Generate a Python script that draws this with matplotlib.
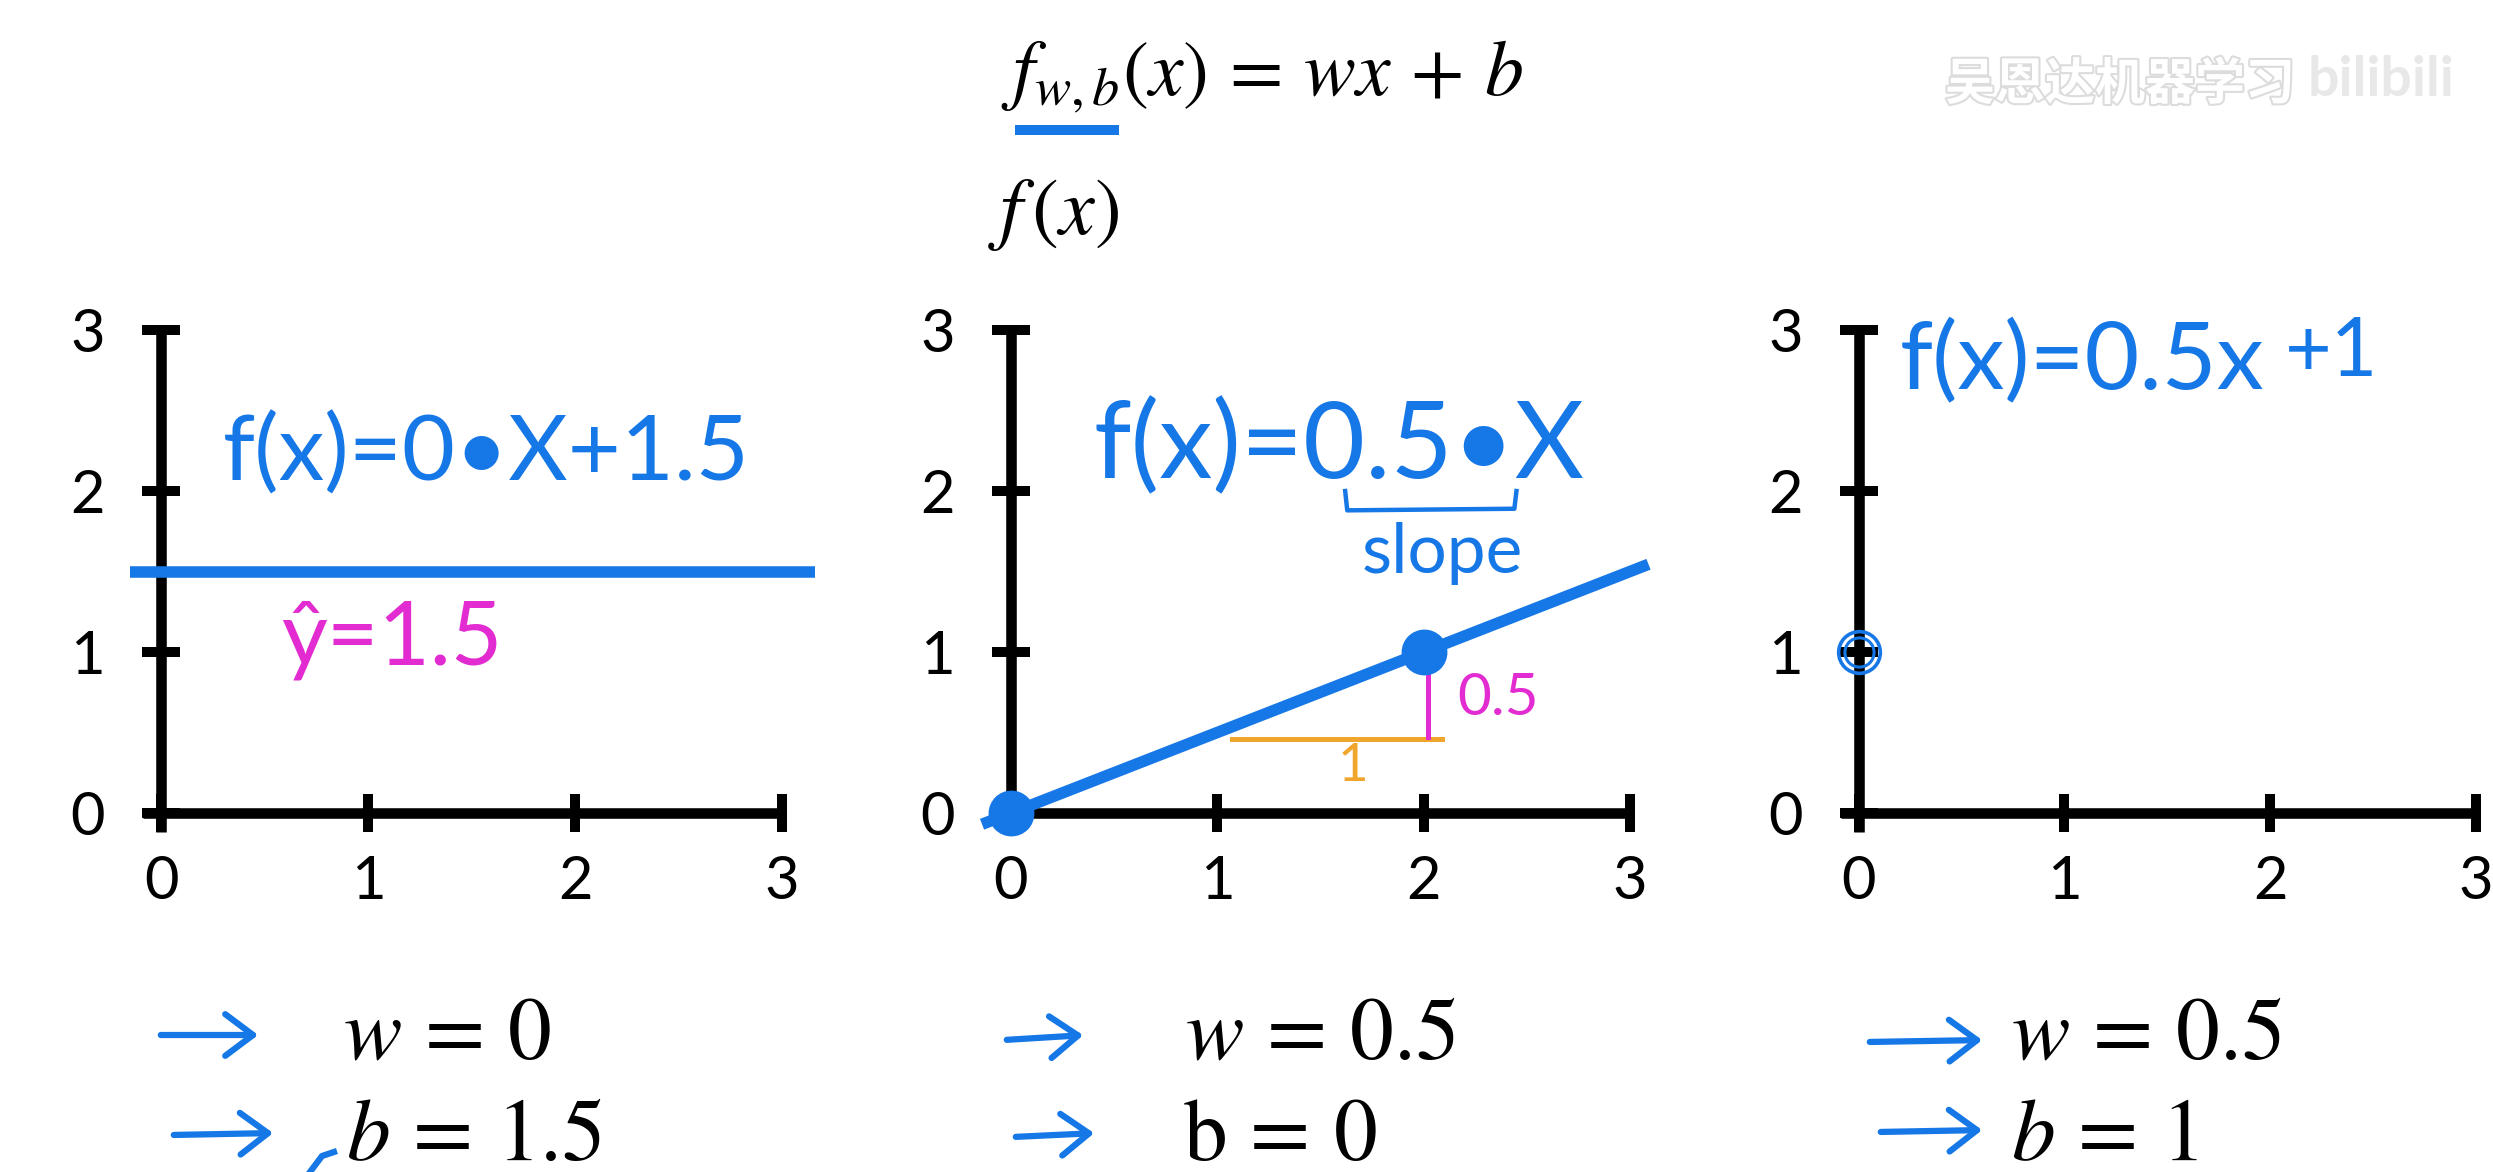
import matplotlib
matplotlib.use("Agg")
import matplotlib.pyplot as plt
import matplotlib.patheffects as pe
from matplotlib.lines import Line2D
from matplotlib.patches import FancyArrowPatch

W, H, DPI = 2493, 1172, 100

BLUE = "#1677e6"
PINK = "#e22cd2"
ORANGE = "#f0a62c"

plt.rcParams["font.family"] = ["Lato", "DejaVu Sans"]
plt.rcParams["mathtext.fontset"] = "stix"

# axis ticks shared by the three panels
ticks = [0, 1, 2, 3]
tick_labels = ["0", "1", "2", "3"]

# panel 1: w = 0, b = 1.5
p1_line_x = [-0.15, 3.16]
p1_line_y = [1.5, 1.5]

# panel 2: w = 0.5, b = 0
p2_line_x = [-0.14, 3.09]
p2_line_y = [-0.07, 1.545]
p2_pts_x = [0, 2]
p2_pts_y = [0, 1]
p2_run_x = [1.07, 2.09]
p2_run_y = [0.46, 0.46]
p2_rise_x = [2.02, 2.02]
p2_rise_y = [0.47, 0.91]
brace_x = [1.62, 1.63, 2.44, 2.45]
brace_y = [2.00, 1.88, 1.89, 2.00]

# panel 3: w = 0.5, b = 1
p3_pts_x = [0]
p3_pts_y = [1]

params = [(r"w\,=\,0", r"b\,=\,1.5"), (r"w\,=\,0.5", r"\mathrm{b}\,=\,0"), (r"w\,=\,0.5", r"b\,=\,1")]

fig = plt.figure(figsize=(W / DPI, H / DPI), dpi=DPI)


def px(x, y):
    return x / W, 1 - y / H


def setup_axes(left, width):
    ax = fig.add_axes([left, 0.2901, width, 0.4283])
    ax.set_xlim(-0.087, 3.0)
    ax.set_ylim(-0.118, 3.0)
    ax.patch.set_alpha(0)
    for s in ("top", "right"):
        ax.spines[s].set_visible(False)
    for s in ("left", "bottom"):
        ax.spines[s].set_position(("data", 0))
        ax.spines[s].set_linewidth(7.6)
        ax.spines[s].set_capstyle("butt")
    ax.set_xticks(ticks, tick_labels)
    ax.set_yticks(ticks, tick_labels)
    ax.tick_params(direction="inout", length=27, width=7.2, labelsize=43)
    ax.tick_params(axis="x", pad=17)
    ax.tick_params(axis="y", pad=27)
    return ax


hand = dict(fontweight="normal")

# left panel
ax1 = setup_axes(0.0574, 0.2563)
ax1.plot(p1_line_x, p1_line_y, color=BLUE, lw=8.3, solid_capstyle="butt", clip_on=False, zorder=3)
ax1.text(0.30, 2.23, "f(x)=0•X+1.5", color=BLUE, fontsize=66, va="center", ha="left", **hand)
ax1.text(0.58, 1.08, "ŷ=1.5", color=PINK, fontsize=64, va="center", ha="left", **hand)

# middle panel
ax2 = setup_axes(0.3983, 0.2555)
ax2.plot(p2_line_x, p2_line_y, color=BLUE, lw=8.3, solid_capstyle="butt", clip_on=False, zorder=3)
ax2.plot(p2_pts_x, p2_pts_y, "o", color=BLUE, ms=32, clip_on=False, zorder=4)
ax2.plot(p2_run_x, p2_run_y, color=ORANGE, lw=3.6, zorder=3)
ax2.plot(p2_rise_x, p2_rise_y, color=PINK, lw=3.6, zorder=3)
ax2.plot(brace_x, brace_y, color=BLUE, lw=3.2, solid_joinstyle="round")
ax2.text(0.40, 2.27, "f(x)=0.5•X", color=BLUE, fontsize=77, va="center", ha="left", **hand)
ax2.text(2.09, 1.61, "slope", color=BLUE, fontsize=50, va="center", ha="center", **hand)
ax2.text(1.66, 0.29, "1", color=ORANGE, fontsize=38, va="center", ha="center", **hand)
ax2.text(2.36, 0.71, "0.5", color=PINK, fontsize=42, va="center", ha="center", **hand)

# right panel
ax3 = setup_axes(0.7385, 0.2545)
ax3.plot(p3_pts_x, p3_pts_y, "o", mfc="none", mec=BLUE, mew=2.6, ms=30, clip_on=False, zorder=4)
ax3.plot(p3_pts_x, p3_pts_y, "o", mfc="none", mec=BLUE, mew=2.2, ms=21, clip_on=False, zorder=4)
ax3.plot(p3_pts_x, p3_pts_y, "o", color="black", ms=8, clip_on=False, zorder=5)
ax3.text(0.20, 2.80, "f(x)=0.5x", color=BLUE, fontsize=68, va="center", ha="left", **hand)
ax3.text(2.07, 2.86, "+1", color=BLUE, fontsize=58, va="center", ha="left", **hand)

# header formulas
fig.text(*px(1001, 95), r"$f_{w,b}(x)\,=\,wx\,+\,b$", fontsize=56, va="baseline", ha="left")
fig.add_artist(Line2D([1020 / W, 1114 / W], [1 - 130 / H, 1 - 130 / H], color=BLUE, lw=7.2,
                      transform=fig.transFigure))
fig.text(*px(988, 215), r"$f\,(x)$", fontsize=58, va="center", ha="left")

# parameter values under each panel
w_left = [343, 1185, 2011]
b_left = [346, 1183, 2011]
for (wtxt, btxt), xw, xb in zip(params, w_left, b_left):
    fig.text(*px(xw, 1058), f"${wtxt}$", fontsize=63, va="baseline", ha="left")
    fig.text(*px(xb, 1160), f"${btxt}$", fontsize=63, va="baseline", ha="left")

arrows = [((158, 1035), (261, 1035)), ((171, 1135), (276, 1133)),
          ((1004, 1040), (1086, 1035)), ((1013, 1137), (1097, 1133)),
          ((1867, 1042), (1985, 1040)), ((1878, 1132), (1985, 1130))]
for a, b in arrows:
    fig.add_artist(FancyArrowPatch(px(*a), px(*b), transform=fig.transFigure,
                                   arrowstyle="->,head_length=20,head_width=15",
                                   mutation_scale=1, color=BLUE, lw=4.5,
                                   capstyle="round", joinstyle="round"))
fig.add_artist(Line2D([310 / W, 322 / W, 334 / W], [1 - 1172 / H, 1 - 1156 / H, 1 - 1152 / H],
                      color=BLUE, lw=4.5, transform=fig.transFigure))

# watermark
fig.text(*px(1945, 85), "吴恩达机器学习", fontsize=36, color="white", va="center", ha="left",
         family=["Noto Sans CJK SC", "DejaVu Sans"], fontweight="bold",
         path_effects=[pe.withStroke(linewidth=3, foreground="#dcdcdc")])
fig.text(*px(2308, 80), "bilibili", fontsize=40, color="#e8e8e8", va="center", ha="left",
         fontweight="bold")

fig.savefig("out.png", dpi=DPI)
